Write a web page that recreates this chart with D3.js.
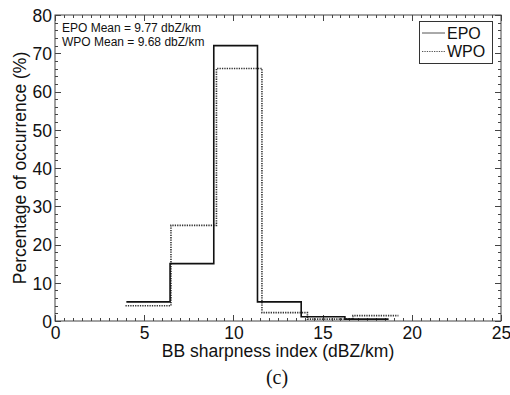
<!DOCTYPE html>
<html>
<head>
<meta charset="utf-8">
<script src="https://cdn.jsdelivr.net/npm/d3@7/dist/d3.min.js"></script>
<style>
  html, body { margin: 0; padding: 0; background: #fff; }
  svg { display: block; }
  text { font-family: "Liberation Sans", Arial, Helvetica, sans-serif; fill: #111; }
</style>
</head>
<body>
<svg id="chart" width="510" height="395"></svg>
<script>
// Histogram bin edges (dBZ/km) and percentages for each region
const epoEdges = [4.0, 6.45, 8.9, 11.35, 13.8, 16.25, 18.7];
const epoValues = [5, 15, 72, 5, 1.1, 0.5];
const wpoEdges = [3.95, 6.5, 9.05, 11.6, 14.15, 16.7, 19.25];
const wpoValues = [4, 25, 66, 2.2, 0.5, 1.4];

const xTicks = [0, 5, 10, 15, 20, 25];
const yTicks = [0, 10, 20, 30, 40, 50, 60, 70, 80];
const seriesNames = ["EPO", "WPO"];
const meanLines = ["EPO Mean = 9.77 dbZ/km", "WPO Mean = 9.68 dbZ/km"];

const svg = d3.select("#chart");
const m = { left: 55, right: 501, top: 15, bottom: 321 };

const x = d3.scaleLinear().domain([0, 25]).range([m.left, m.right]);
const y = d3.scaleLinear().domain([0, 80]).range([m.bottom, m.top]);

// Frame
svg.append("rect")
  .attr("x", m.left).attr("y", m.top)
  .attr("width", m.right - m.left).attr("height", m.bottom - m.top)
  .attr("fill", "none").attr("stroke", "#444").attr("stroke-width", 1);

// Inward ticks on all four sides, majors plus minors
const tickG = svg.append("g").attr("stroke", "#444").attr("stroke-width", 1);
const xMinor = d3.range(0, 25.001, 0.5);
const yMinor = d3.range(0, 80.001, 2);
xMinor.forEach(v => {
  const major = Math.abs(v % 5) < 1e-6;
  const len = major ? 6 : 3;
  const px = Math.round(x(v)) + 0.5;
  tickG.append("line").attr("x1", px).attr("x2", px).attr("y1", m.bottom).attr("y2", m.bottom - len);
  tickG.append("line").attr("x1", px).attr("x2", px).attr("y1", m.top).attr("y2", m.top + len);
});
yMinor.forEach(v => {
  const major = Math.abs(v % 10) < 1e-6;
  const len = major ? 6 : 3;
  const py = Math.round(y(v)) + 0.5;
  tickG.append("line").attr("x1", m.left).attr("x2", m.left + len).attr("y1", py).attr("y2", py);
  tickG.append("line").attr("x1", m.right).attr("x2", m.right - len).attr("y1", py).attr("y2", py);
});

// Tick labels through D3 axes (tick lines hidden, frame drawn above)
const xAxis = d3.axisBottom(x).tickValues(xTicks).tickSize(0).tickPadding(0).tickFormat(d3.format("d"));
const gx = svg.append("g").attr("transform", `translate(0,${m.bottom})`).call(xAxis);
gx.select(".domain").remove();
gx.selectAll("text").attr("dy", null).attr("y", 17.5)
  .style("font-size", "17.5px").style("font-family", "Liberation Sans, Arial, sans-serif").attr("fill", "#111");

const yAxis = d3.axisLeft(y).tickValues(yTicks).tickSize(0).tickPadding(3).tickFormat(d3.format("d"));
const gy = svg.append("g").attr("transform", `translate(${m.left},0)`).call(yAxis);
gy.select(".domain").remove();
gy.selectAll("text").attr("dy", "0.36em")
  .style("font-size", "17.5px").style("font-family", "Liberation Sans, Arial, sans-serif").attr("fill", "#111");

// Axis titles
svg.append("text")
  .attr("x", (m.left + m.right) / 2).attr("y", 357)
  .attr("text-anchor", "middle").style("font-size", "17.5px")
  .text("BB sharpness index (dBZ/km)");
svg.append("text")
  .attr("transform", `translate(26,${(m.top + m.bottom) / 2}) rotate(-90)`)
  .attr("text-anchor", "middle").style("font-size", "17.5px")
  .text("Percentage of occurrence (%)");
svg.append("text")
  .attr("x", 277).attr("y", 384)
  .attr("text-anchor", "middle")
  .style("font-family", "Liberation Serif, Times New Roman, serif").style("font-size", "20px")
  .text("(c)");

// Step histograms
function stepPoints(edges, values) {
  const pts = values.map((v, i) => [edges[i], v]);
  pts.push([edges[edges.length - 1], values[values.length - 1]]);
  return pts;
}
const step = d3.line().x(d => x(d[0])).y(d => y(d[1])).curve(d3.curveStepAfter);

svg.append("path")
  .attr("d", step(stepPoints(wpoEdges, wpoValues)))
  .attr("fill", "none").attr("stroke", "#333").attr("stroke-width", 1.6)
  .attr("stroke-dasharray", "1.3,1.1");
svg.append("path")
  .attr("d", step(stepPoints(epoEdges, epoValues)))
  .attr("fill", "none").attr("stroke", "#111").attr("stroke-width", 1.6);

// Mean annotations
meanLines.forEach((t, i) => {
  svg.append("text")
    .attr("x", 62).attr("y", 32 + i * 13.5)
    .style("font-size", "12px").text(t);
});

// Legend
const lg = svg.append("g");
lg.append("rect").attr("x", 419.5).attr("y", 21.5).attr("width", 73).attr("height", 42)
  .attr("fill", "#fff").attr("stroke", "#333").attr("stroke-width", 1);
const legendStyles = [
  { stroke: "#555", dash: null },
  { stroke: "#555", dash: "1.3,1.1" }
];
seriesNames.forEach((name, i) => {
  const cy = 33 + i * 18.5;
  lg.append("line").attr("x1", 422).attr("x2", 445).attr("y1", cy).attr("y2", cy)
    .attr("stroke", legendStyles[i].stroke).attr("stroke-width", 1)
    .attr("stroke-dasharray", legendStyles[i].dash);
  lg.append("text").attr("x", 447).attr("y", cy + 5.5)
    .style("font-size", "16px").text(name);
});
</script>
</body>
</html>
